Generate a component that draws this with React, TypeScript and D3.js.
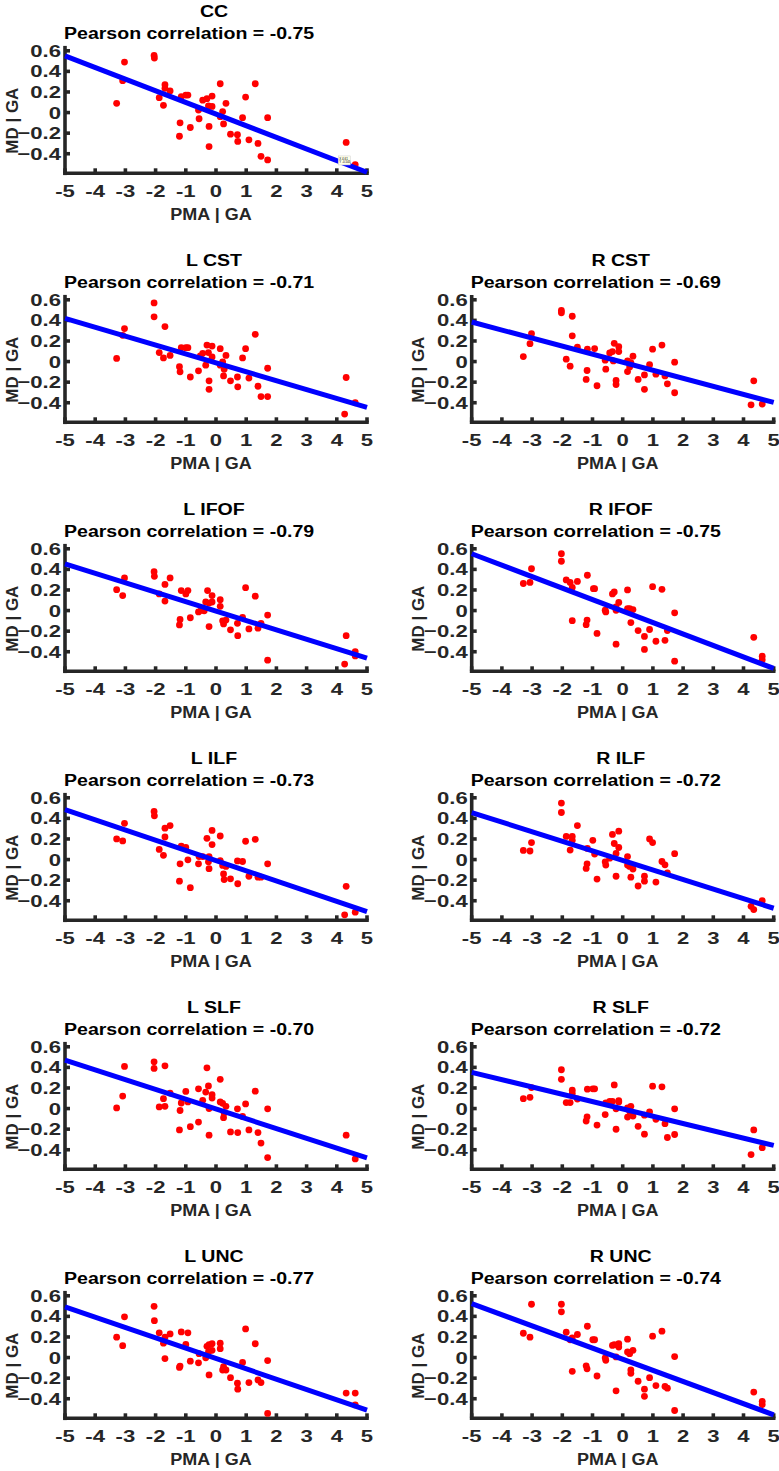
import React from "react";
import * as d3 from "d3";

// ---------- data ----------
const X_TICKS = [-5, -4, -3, -2, -1, 0, 1, 2, 3, 4, 5];
const Y_TICKS = [-0.4, -0.2, 0, 0.2, 0.4, 0.6];
const X_DOMAIN: [number, number] = [-5, 5];
const Y_DOMAIN: [number, number] = [-0.59, 0.63];
const X_LABEL = "PMA | GA";
const Y_LABEL = "MD | GA";

const TRACTS = ["CC", "L CST", "R CST", "L IFOF", "R IFOF", "L ILF", "R ILF", "L SLF", "R SLF", "L UNC", "R UNC"];
const PEARSON = ["-0.75", "-0.71", "-0.69", "-0.79", "-0.75", "-0.73", "-0.72", "-0.70", "-0.72", "-0.77", "-0.74"];
// fitted line values at x = -5 and x = 5
const FIT_LINES: [number, number][] = [
  [0.55, -0.58], [0.42, -0.445], [0.384, -0.397], [0.454, -0.463], [0.552, -0.562],
  [0.486, -0.505], [0.457, -0.473], [0.47, -0.479], [0.351, -0.358], [0.492, -0.511], [0.524, -0.556],
];

const ccPoints: [number, number][] = [
  [-3.29, 0.09], [-3.09, 0.31], [-3.03, 0.49], [-2.05, 0.555], [-2.04, 0.53], [-1.88, 0.145], [-1.74, 0.07],
  [-1.69, 0.27], [-1.69, 0.235], [-1.52, 0.21], [-1.21, -0.23], [-1.19, -0.1], [-1.15, 0.155], [-1.0, 0.17],
  [-0.93, 0.17], [-0.85, -0.145], [-0.58, 0.025], [-0.56, -0.06], [-0.44, 0.12], [-0.3, 0.135], [-0.25, 0.065],
  [-0.23, -0.135], [-0.23, -0.33], [-0.13, 0.16], [-0.13, 0.06], [0.14, 0.28], [0.14, -0.04], [0.22, 0.01],
  [0.25, -0.11], [0.33, 0.09], [0.48, -0.21], [0.71, -0.215], [0.72, -0.28], [0.88, -0.05], [0.98, 0.15],
  [1.09, -0.265], [1.3, 0.28], [1.39, -0.3], [1.49, -0.425], [1.71, -0.05], [1.71, -0.46], [4.31, -0.29], [4.61, -0.505],
];
const lCstPoints: [number, number][] = [
  [-3.29, 0.03], [-3.09, 0.255], [-3.03, 0.32], [-2.05, 0.57], [-2.05, 0.435], [-1.88, 0.087], [-1.74, 0.035],
  [-1.69, 0.34], [-1.52, 0.06], [-1.21, -0.05], [-1.19, -0.1], [-1.15, 0.135], [-1.0, 0.135], [-0.93, 0.135],
  [-0.85, -0.15], [-0.58, -0.09], [-0.52, 0.055], [-0.44, 0.08], [-0.3, 0.16], [-0.34, -0.035], [-0.25, 0.087],
  [-0.23, -0.187], [-0.23, -0.27], [-0.13, 0.15], [-0.13, 0.045], [0.14, 0.125], [0.14, -0.035], [0.22, -0.003],
  [0.25, -0.14], [0.33, 0.06], [0.27, -0.075], [0.48, -0.187], [0.71, -0.15], [0.72, -0.245], [0.88, 0.035],
  [0.98, 0.125], [1.09, -0.16], [1.3, 0.265], [1.39, -0.24], [1.49, -0.34], [1.71, -0.065], [1.71, -0.34],
  [4.26, -0.51], [4.31, -0.155], [4.61, -0.4],
];
const rCstPoints: [number, number][] = [
  [-3.29, 0.048], [-3.07, 0.174], [-3.02, 0.27], [-2.03, 0.497], [-2.03, 0.474], [-1.67, 0.44], [-1.67, 0.25],
  [-1.87, 0.023], [-1.74, -0.045], [-1.5, 0.14], [-1.18, -0.087], [-1.21, -0.174], [-1.17, 0.12], [-0.93, 0.126],
  [-0.85, -0.235], [-0.58, 0.013], [-0.56, -0.074], [-0.43, 0.084], [-0.34, 0.097], [-0.28, 0.177], [-0.22, -0.184],
  [-0.22, -0.223], [-0.13, 0.145], [-0.13, 0.097], [-0.31, 0.006], [0.16, -0.097], [0.16, 0.006], [0.23, -0.052],
  [0.27, -0.01], [0.34, 0.052], [0.51, -0.174], [0.72, -0.13], [0.72, -0.27], [0.89, -0.03], [0.99, 0.12],
  [1.1, -0.123], [1.3, 0.16], [1.4, -0.14], [1.48, -0.216], [1.72, -0.006], [1.72, -0.303], [4.25, -0.42],
  [4.34, -0.187], [4.62, -0.413],
];
const lIfofPoints: [number, number][] = [
  [-3.29, 0.203], [-3.09, 0.146], [-3.03, 0.317], [-2.05, 0.378], [-2.04, 0.333], [-1.88, 0.162], [-1.69, 0.092],
  [-1.69, 0.254], [-1.52, 0.317], [-1.21, -0.14], [-1.19, -0.086], [-1.15, 0.194], [-1.0, 0.162], [-0.93, 0.194],
  [-0.85, -0.07], [-0.58, -0.013], [-0.49, 0.003], [-0.39, -0.003], [-0.34, 0.083], [-0.28, 0.194], [-0.23, -0.156],
  [-0.23, 0.073], [-0.13, 0.146], [-0.13, 0.083], [0.14, 0.105], [0.14, 0.041], [0.22, -0.1], [0.25, -0.13],
  [0.33, -0.092], [0.48, -0.187], [0.71, -0.124], [0.72, -0.244], [0.88, -0.067], [0.98, 0.222], [1.09, -0.178],
  [1.3, 0.14], [1.39, -0.171], [1.49, -0.124], [1.71, -0.044], [1.71, -0.482], [4.26, -0.52], [4.31, -0.244],
  [4.61, -0.4], [4.61, -0.441],
];
const rIfofPoints: [number, number][] = [
  [-3.29, 0.263], [-3.07, 0.273], [-3.02, 0.406], [-2.03, 0.552], [-2.03, 0.479], [-1.87, 0.298], [-1.74, 0.273],
  [-1.67, 0.225], [-1.67, -0.098], [-1.5, 0.283], [-1.21, -0.137], [-1.18, -0.092], [-1.17, 0.343], [-0.97, 0.213],
  [-0.93, 0.213], [-0.85, -0.222], [-0.58, 0.003], [-0.56, -0.013], [-0.34, 0.162], [-0.28, 0.181], [-0.22, -0.327],
  [-0.22, 0.035], [-0.13, 0.079], [-0.22, 0.003], [0.16, 0.2], [0.16, 0.019], [0.23, 0.019], [0.27, -0.117],
  [0.34, 0.01], [0.51, -0.194], [0.72, -0.251], [0.72, -0.378], [0.89, -0.184], [0.99, 0.232], [1.1, -0.298],
  [1.3, 0.206], [1.4, -0.289], [1.48, -0.194], [1.72, -0.022], [1.72, -0.492], [4.34, -0.26], [4.62, -0.444],
  [4.62, -0.479],
];
const lIlfPoints: [number, number][] = [
  [-3.29, 0.2], [-3.09, 0.181], [-3.03, 0.352], [-2.05, 0.467], [-2.04, 0.425], [-1.88, 0.098], [-1.74, 0.041],
  [-1.69, 0.219], [-1.69, 0.305], [-1.52, 0.33], [-1.21, -0.21], [-1.19, -0.041], [-1.15, 0.13], [-1.0, 0.117],
  [-0.93, -0.003], [-0.85, -0.273], [-0.58, -0.041], [-0.56, 0.029], [-0.44, 0.029], [-0.3, 0.206], [-0.25, -0.022],
  [-0.23, -0.089], [-0.23, 0.029], [-0.13, 0.146], [-0.13, 0.283], [0.14, 0.229], [0.14, -0.01], [0.22, -0.057],
  [0.25, -0.14], [0.27, -0.194], [0.33, -0.067], [0.48, -0.187], [0.71, -0.013], [0.72, -0.235], [0.88, -0.019],
  [0.98, 0.178], [1.09, -0.162], [1.3, 0.197], [1.39, -0.171], [1.49, -0.171], [1.71, -0.041], [4.26, -0.537],
  [4.31, -0.26], [4.61, -0.511],
];
const rIlfPoints: [number, number][] = [
  [-3.29, 0.089], [-3.07, 0.083], [-3.02, 0.165], [-2.03, 0.549], [-2.03, 0.457], [-1.87, 0.225], [-1.74, 0.092],
  [-1.67, 0.225], [-1.67, 0.187], [-1.5, 0.33], [-1.21, -0.086], [-1.18, -0.041], [-1.17, 0.108], [-0.99, 0.187],
  [-0.93, 0.054], [-0.85, -0.19], [-0.58, -0.022], [-0.56, -0.054], [-0.43, 0.013], [-0.34, 0.244], [-0.28, 0.156],
  [-0.22, -0.162], [-0.22, 0.06], [-0.13, 0.276], [-0.13, 0.117], [0.16, 0.029], [0.16, -0.054], [0.23, -0.067],
  [0.27, -0.171], [0.34, -0.092], [0.51, -0.257], [0.72, -0.21], [0.72, -0.162], [0.89, 0.2], [0.99, 0.165],
  [1.1, -0.219], [1.3, -0.019], [1.4, -0.051], [1.48, -0.13], [1.72, 0.057], [4.25, -0.454], [4.34, -0.486],
  [4.62, -0.4],
];
const lSlfPoints: [number, number][] = [
  [-3.29, 0.006], [-3.09, 0.121], [-3.03, 0.409], [-2.05, 0.454], [-2.05, 0.39], [-1.88, 0.016], [-1.74, 0.096],
  [-1.69, 0.415], [-1.69, 0.022], [-1.52, 0.15], [-1.21, -0.208], [-1.19, -0.019], [-1.15, 0.054], [-1.0, 0.166],
  [-0.93, 0.064], [-0.85, -0.176], [-0.58, -0.131], [-0.58, 0.192], [-0.44, 0.08], [-0.3, 0.396], [-0.34, 0.16],
  [-0.25, 0.22], [-0.23, -0.259], [-0.23, 0.0], [-0.13, 0.134], [-0.13, 0.102], [0.14, 0.284], [0.14, 0.064],
  [0.22, 0.051], [0.25, -0.089], [0.33, 0.022], [0.27, -0.042], [0.48, -0.227], [0.71, -0.003], [0.72, -0.233],
  [0.88, -0.077], [0.98, 0.045], [1.09, -0.208], [1.3, 0.169], [1.39, -0.233], [1.49, -0.335], [1.71, -0.003],
  [1.71, -0.476], [4.31, -0.259], [4.61, -0.489],
];
const rSlfPoints: [number, number][] = [
  [-3.29, 0.096], [-3.07, 0.109], [-3.02, 0.204], [-2.03, 0.377], [-2.03, 0.284], [-1.87, 0.058], [-1.74, 0.058],
  [-1.67, 0.179], [-1.67, 0.147], [-1.5, 0.093], [-1.21, -0.121], [-1.18, -0.08], [-1.17, 0.188], [-0.99, 0.192],
  [-0.93, 0.192], [-0.85, -0.16], [-0.58, -0.058], [-0.56, 0.054], [-0.43, 0.07], [-0.34, 0.07], [-0.28, 0.23],
  [-0.22, -0.201], [-0.22, -0.003], [-0.13, 0.077], [-0.13, 0.064], [0.16, 0.006], [0.16, -0.083], [0.23, -0.026],
  [0.27, 0.022], [0.34, -0.073], [0.51, -0.173], [0.72, -0.064], [0.72, -0.249], [0.89, -0.032], [0.99, 0.217],
  [1.1, -0.105], [1.3, 0.211], [1.4, -0.147], [1.48, -0.281], [1.72, -0.003], [1.72, -0.252], [4.25, -0.447],
  [4.34, -0.208], [4.62, -0.38],
];
const lUncPoints: [number, number][] = [
  [-3.29, 0.198], [-3.09, 0.115], [-3.03, 0.396], [-2.05, 0.498], [-2.04, 0.358], [-1.88, 0.24], [-1.74, 0.14],
  [-1.69, -0.01], [-1.69, 0.198], [-1.52, 0.23], [-1.21, -0.096], [-1.19, -0.083], [-1.15, 0.249], [-1.0, 0.128],
  [-0.93, 0.24], [-0.85, -0.035], [-0.58, -0.051], [-0.56, 0.038], [-0.34, -0.003], [-0.3, 0.109], [-0.25, 0.054],
  [-0.23, -0.169], [-0.23, 0.125], [-0.13, 0.134], [-0.13, 0.07], [0.14, 0.14], [0.14, 0.086], [0.22, -0.121],
  [0.25, -0.089], [0.33, -0.121], [0.48, -0.195], [0.71, -0.249], [0.72, -0.307], [0.88, -0.048], [0.98, 0.278],
  [1.09, -0.243], [1.3, 0.134], [1.39, -0.217], [1.49, -0.243], [1.71, -0.029], [1.71, -0.543], [4.31, -0.345],
  [4.61, -0.345], [4.61, -0.46],
];
const rUncPoints: [number, number][] = [
  [-3.29, 0.236], [-3.07, 0.198], [-3.02, 0.518], [-2.03, 0.518], [-2.03, 0.444], [-1.87, 0.246], [-1.74, 0.173],
  [-1.67, 0.19], [-1.67, -0.134], [-1.5, 0.224], [-1.21, -0.08], [-1.18, -0.109], [-1.17, 0.304], [-0.99, 0.173],
  [-0.93, 0.173], [-0.85, -0.179], [-0.58, -0.003], [-0.56, -0.026], [-0.34, 0.118], [-0.28, 0.125], [-0.22, -0.323],
  [-0.22, 0.006], [-0.13, 0.134], [-0.13, 0.102], [0.16, 0.179], [0.16, 0.054], [0.23, 0.038], [0.27, -0.153],
  [0.34, 0.07], [0.27, -0.121], [0.51, -0.23], [0.72, -0.307], [0.72, -0.377], [0.89, -0.195], [0.99, 0.208],
  [1.1, -0.272], [1.3, 0.256], [1.4, -0.281], [1.48, -0.297], [1.72, 0.01], [1.72, -0.514], [4.34, -0.335],
  [4.62, -0.425], [4.62, -0.457],
];
const POINTS = [ccPoints, lCstPoints, rCstPoints, lIfofPoints, rIfofPoints, lIlfPoints, rIlfPoints, lSlfPoints, rSlfPoints, lUncPoints, rUncPoints];

// data tip shown in the CC panel
const DATATIP = { panel: 0, x: 4.61, y: -0.505, lines: ["X 4.61", "Y -0.505"] };

// ---------- layout ----------
const W = 779;
const H = 1471;
const COL_X = [65, 471.7];
const PLOT_W = 302;
const PLOT_H = 125.6;
const ROW_TOP0 = 47.7;
const ROW_STEP = 249;
const GRID: [number, number][] = [
  [0, 0], [1, 0], [1, 1], [2, 0], [2, 1], [3, 0], [3, 1], [4, 0], [4, 1], [5, 0], [5, 1],
];

const AXIS = "#262626";
const FONT = "'Liberation Sans', Arial, Helvetica, sans-serif";

function Panel({ idx }: { idx: number }) {
  const [row, col] = GRID[idx];
  const x0 = COL_X[col];
  const top = ROW_TOP0 + ROW_STEP * row;
  const x = d3.scaleLinear().domain(X_DOMAIN).range([x0, x0 + PLOT_W]);
  const y = d3.scaleLinear().domain(Y_DOMAIN).range([top + PLOT_H, top]);
  const bottom = top + PLOT_H;
  const cx = x0 + PLOT_W / 2;
  const fit = FIT_LINES[idx];
  const lineGen = d3.line<[number, number]>().x((d) => x(d[0])).y((d) => y(d[1]));
  const linePath = lineGen([[X_DOMAIN[0], fit[0]], [X_DOMAIN[1], fit[1]]]) || "";
  const txt = (tx: number, ty: number, s: string, size: number, sx: number, anchor: string, color: string, key?: string) => (
    <text key={key} transform={`translate(${tx},${ty}) scale(${sx},1)`} textAnchor={anchor as any}
      fontSize={size} fontWeight="bold" fontFamily={FONT} fill={color}>{s}</text>
  );
  return (
    <g>
      {txt(cx - 2, top - 30.4, TRACTS[idx], 17, 1.15, "middle", "#000")}
      {txt(x0 - 1, top - 8.7, `Pearson correlation = ${PEARSON[idx]}`, 17, 1.15, "start", "#000")}
      {/* axes */}
      <line x1={x0} x2={x0 + PLOT_W} y1={bottom} y2={bottom} stroke={AXIS} strokeWidth={3.6} strokeLinecap="square" />
      <line x1={x0} x2={x0} y1={top} y2={bottom} stroke={AXIS} strokeWidth={3.6} strokeLinecap="square" />
      {X_TICKS.map((t) => (
        <line key={"xt" + t} x1={x(t)} x2={x(t)} y1={bottom} y2={bottom - 5} stroke={AXIS} strokeWidth={3.6} />
      ))}
      {Y_TICKS.map((t) => (
        <line key={"yt" + t} x1={x0} x2={x0 + 5} y1={y(t)} y2={y(t)} stroke={AXIS} strokeWidth={3.6} />
      ))}
      {X_TICKS.map((t) => txt(x(t), bottom + 23.4, String(t), 17, 1.3, "middle", AXIS, "xl" + t))}
      {Y_TICKS.map((t) => txt(x0 - 4, y(t) + 6, t === 0 ? "0" : d3.format(".1f")(t), 17, 1.3, "end", AXIS, "yl" + t))}
      {txt(cx - 5, bottom + 46.7, X_LABEL, 17, 1.06, "middle", AXIS)}
      <text transform={`translate(${x0 - 47.5},${top + 73}) rotate(-90)`} textAnchor="middle"
        fontSize={17} fontWeight="bold" fontFamily={FONT} fill={AXIS}>{Y_LABEL}</text>
      {/* points */}
      {POINTS[idx].map((p, i) => (
        <circle key={i} cx={x(p[0])} cy={y(p[1])} r={3.4} fill="#ff0000" />
      ))}
      <path d={linePath} stroke="#0000ff" strokeWidth={5} fill="none" />
      {DATATIP.panel === idx && (
        <g>
          <rect x={x(DATATIP.x) - 17} y={y(DATATIP.y) - 8.6} width={12} height={9} fill="#ffffe8" stroke="#ccc" strokeWidth={0.5} />
          {DATATIP.lines.map((l, i) => (
            <text key={i} x={x(DATATIP.x) - 16} y={y(DATATIP.y) - 5 + i * 3.5} fontSize={3} fontFamily={FONT} fill="#000">{l}</text>
          ))}
        </g>
      )}
    </g>
  );
}

export default function App() {
  return (
    <svg width={W} height={H} viewBox={`0 0 ${W} ${H}`} style={{ position: "absolute", left: 0, top: 0, background: "#fff" }}>
      <rect x={0} y={0} width={W} height={H} fill="#fff" />
      {TRACTS.map((_, i) => (
        <Panel key={i} idx={i} />
      ))}
    </svg>
  );
}
